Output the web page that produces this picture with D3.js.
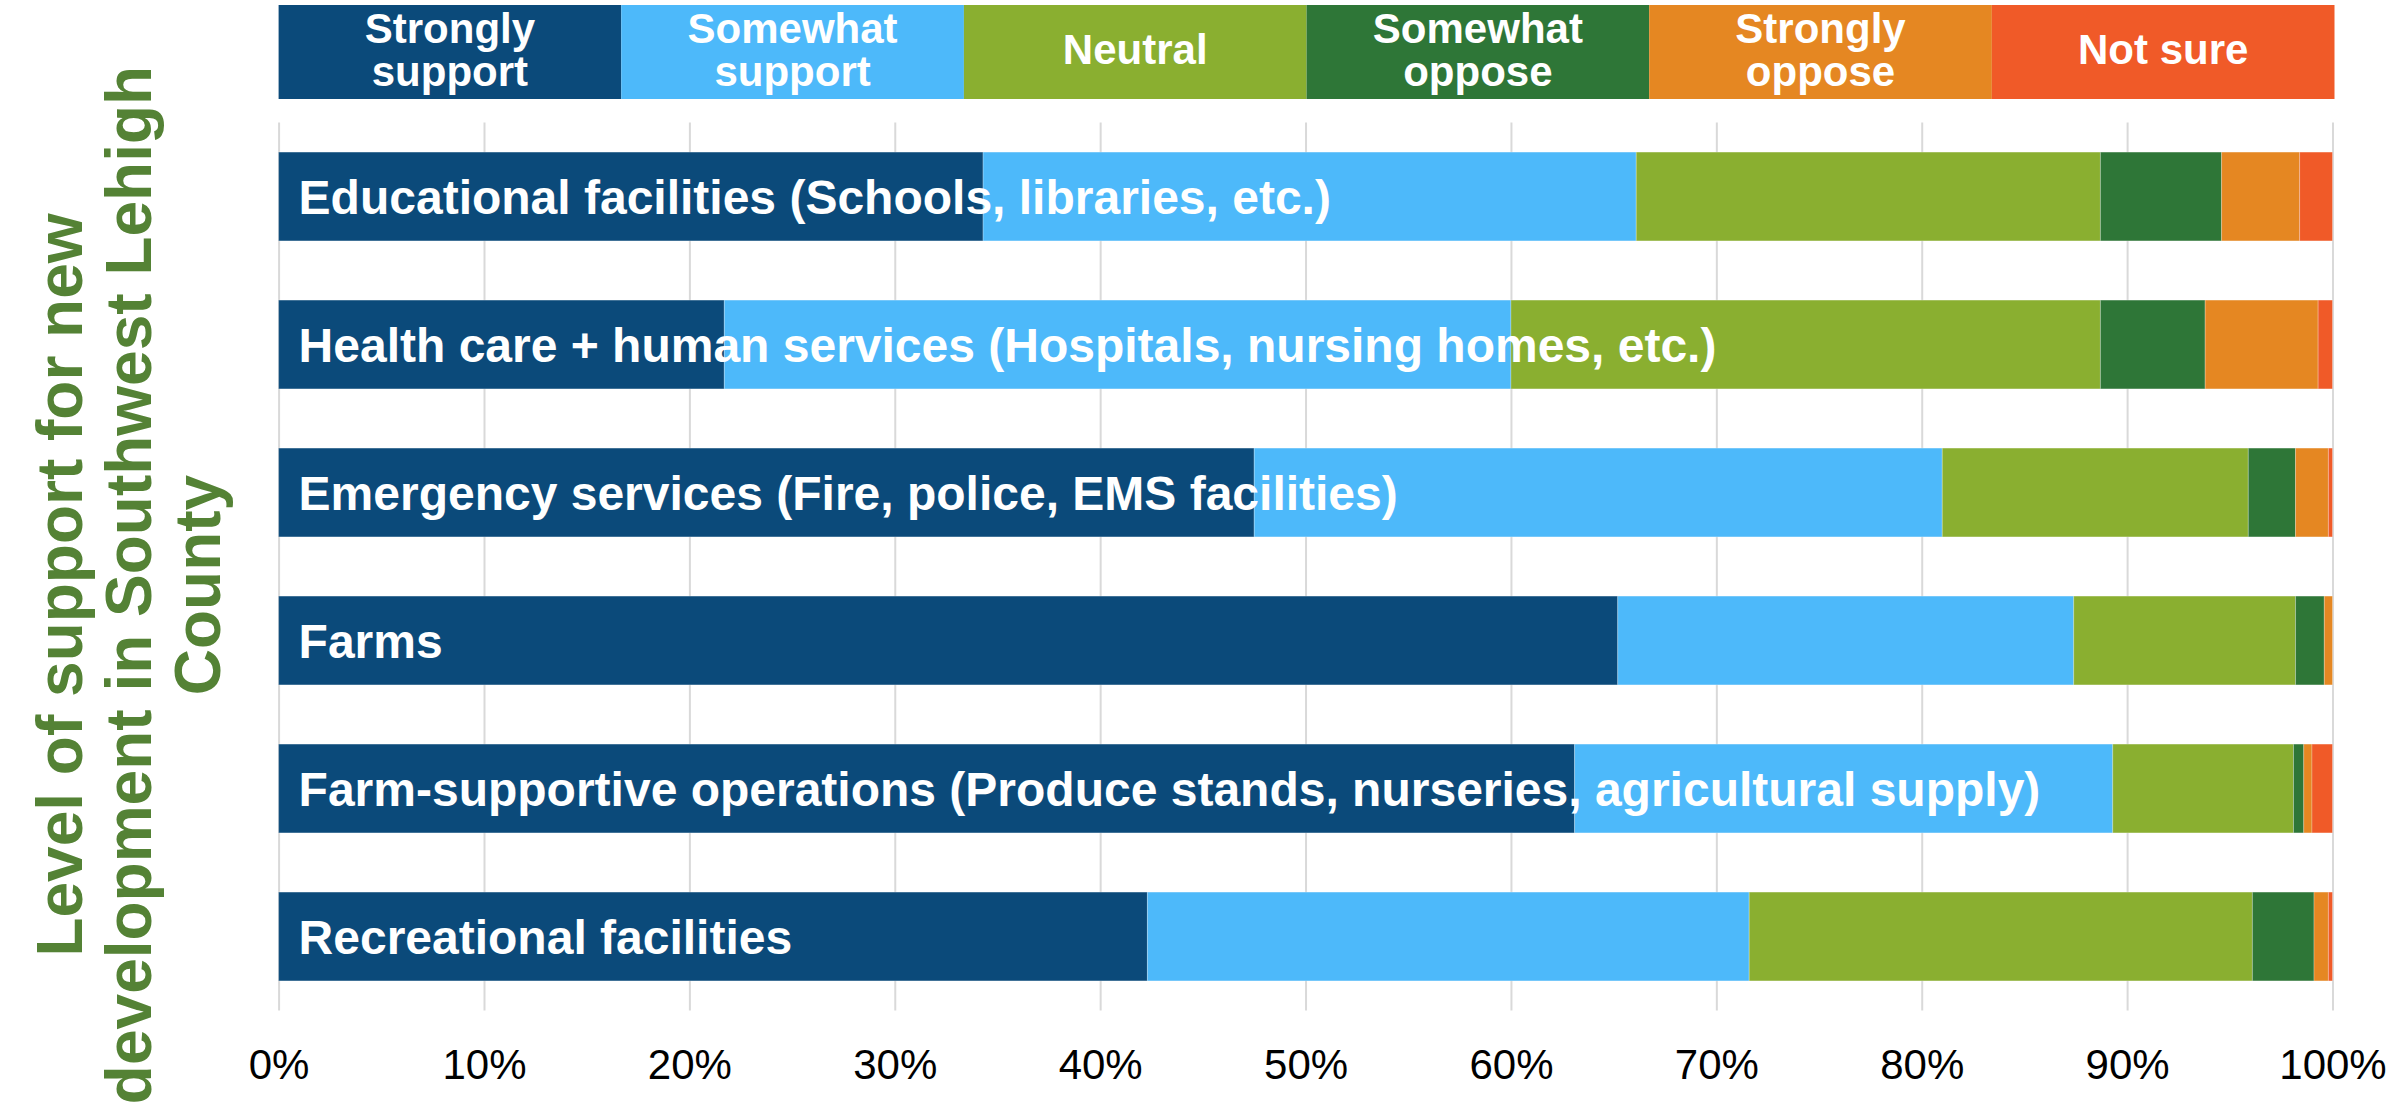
<!DOCTYPE html>
<html>
<head>
<meta charset="utf-8">
<script src="https://cdn.jsdelivr.net/npm/d3@7"></script>
<style>
  body { margin: 0; background: #fff; }
  svg { display: block; font-family: "Liberation Sans", Arial, sans-serif; }
</style>
</head>
<body>
<svg id="chart" width="2407" height="1110"></svg>
<script>
// categories, top to bottom
const categories = [
  'Educational facilities (Schools, libraries, etc.)',
  'Health care + human services (Hospitals, nursing homes, etc.)',
  'Emergency services (Fire, police, EMS facilities)',
  'Farms',
  'Farm-supportive operations (Produce stands, nurseries, agricultural supply)',
  'Recreational facilities'
];

const seriesNames = ['Strongly support', 'Somewhat support', 'Neutral', 'Somewhat oppose', 'Strongly oppose', 'Not sure'];
const seriesLines = [['Strongly', 'support'], ['Somewhat', 'support'], ['Neutral'], ['Somewhat', 'oppose'], ['Strongly', 'oppose'], ['Not sure']];
const seriesColors = ['#0b4a7a', '#4db9fa', '#8aaf30', '#2e7637', '#e58722', '#f05a28'];

// percent of responses, one value per category
const stronglySupport = [34.3, 21.7, 47.5, 65.2, 63.1, 42.3];
const somewhatSupport = [31.8, 38.3, 33.5, 22.2, 26.2, 29.3];
const neutral         = [22.6, 28.7, 14.9, 10.8, 8.8, 24.5];
const somewhatOppose  = [5.9, 5.1, 2.3, 1.4, 0.5, 3.0];
const stronglyOppose  = [3.8, 5.5, 1.6, 0.4, 0.4, 0.7];
const notSure         = [1.6, 0.7, 0.2, 0.0, 1.0, 0.2];

const xTicks = [0, 10, 20, 30, 40, 50, 60, 70, 80, 90, 100];
const yTitle = ['Level of support for new', 'development in Southwest Lehigh', 'County'];

const seriesValues = [stronglySupport, somewhatSupport, neutral, somewhatOppose, stronglyOppose, notSure];

const plot = { left: 278.6, right: 2332.5, top: 122.5, bottom: 1010.5 };

const rows = categories.map((c, i) => {
  const r = { category: c };
  seriesNames.forEach((s, j) => { r[s] = seriesValues[j][i]; });
  return r;
});

const stack = d3.stack().keys(seriesNames);
const stacked = stack(rows);

const x = d3.scaleLinear().domain([0, 100]).range([plot.left, plot.right]);
const y = d3.scaleBand().domain(categories).range([plot.top, plot.bottom])
  .paddingInner(0.4).paddingOuter(0.2);
const color = d3.scaleOrdinal().domain(seriesNames).range(seriesColors);

const svg = d3.select('#chart');

// Gridlines
svg.append('g')
  .attr('transform', `translate(0,${plot.bottom})`)
  .call(d3.axisBottom(x).tickValues(xTicks).tickSize(-(plot.bottom - plot.top)).tickFormat(''))
  .call(g => g.select('.domain').remove())
  .call(g => g.selectAll('line').attr('stroke', '#d9d9d9').attr('stroke-width', 2));

// Tick labels
svg.append('g')
  .attr('transform', `translate(0,${plot.bottom})`)
  .call(d3.axisBottom(x).tickValues(xTicks).tickSize(0).tickPadding(39).tickFormat(d => d + '%'))
  .call(g => g.select('.domain').remove())
  .call(g => g.selectAll('text')
    .attr('font-size', 42)
    .attr('font-family', '"Liberation Sans", Arial, sans-serif')
    .attr('fill', '#000'));

// Bars
svg.append('g')
  .selectAll('g')
  .data(stacked)
  .join('g')
  .attr('fill', d => color(d.key))
  .selectAll('rect')
  .data(d => d)
  .join('rect')
  .attr('x', d => x(d[0]))
  .attr('y', d => y(d.data.category))
  .attr('width', d => Math.max(0, x(d[1]) - x(d[0])))
  .attr('height', y.bandwidth())
  .attr('stroke', 'rgba(255,255,255,0.25)')
  .attr('stroke-width', 1);

// Bar labels
svg.append('g')
  .selectAll('text')
  .data(categories)
  .join('text')
  .attr('x', plot.left + 20)
  .attr('y', d => y(d) + y.bandwidth() / 2)
  .attr('dy', '0.36em')
  .attr('fill', '#fff')
  .attr('font-size', 48)
  .attr('font-weight', 'bold')
  .text(d => d);

// Legend (stacked strip on top)
const lx = d3.scaleBand().domain(seriesNames).range([plot.left, plot.right + 2]);
const legend = svg.append('g');
const item = legend.selectAll('g')
  .data(seriesNames)
  .join('g')
  .attr('transform', d => `translate(${lx(d)},5)`);

item.append('rect')
  .attr('width', lx.bandwidth())
  .attr('height', 94)
  .attr('fill', d => color(d));

item.append('text')
  .attr('x', lx.bandwidth() / 2)
  .attr('text-anchor', 'middle')
  .attr('fill', '#fff')
  .attr('font-size', 42)
  .attr('font-weight', 'bold')
  .each(function (d, i) {
    const lines = seriesLines[i];
    const t = d3.select(this);
    const y0 = 44 - (lines.length - 1) * 21.5;
    lines.forEach((ln, k) => {
      t.append('tspan')
        .attr('x', lx.bandwidth() / 2)
        .attr('y', y0 + k * 43)
        .attr('dy', '0.36em')
        .text(ln);
    });
  });

// Y axis title
const yt = svg.append('text')
  .attr('transform', 'translate(0,585) rotate(-90)')
  .attr('text-anchor', 'middle')
  .attr('fill', '#548235')
  .attr('font-size', 64)
  .attr('font-weight', 'bold');

const titleBaselines = [82, 151, 220];
yTitle.forEach((ln, k) => {
  yt.append('tspan')
    .attr('x', 0)
    .attr('y', titleBaselines[k])
    .text(ln);
});
</script>
</body>
</html>
